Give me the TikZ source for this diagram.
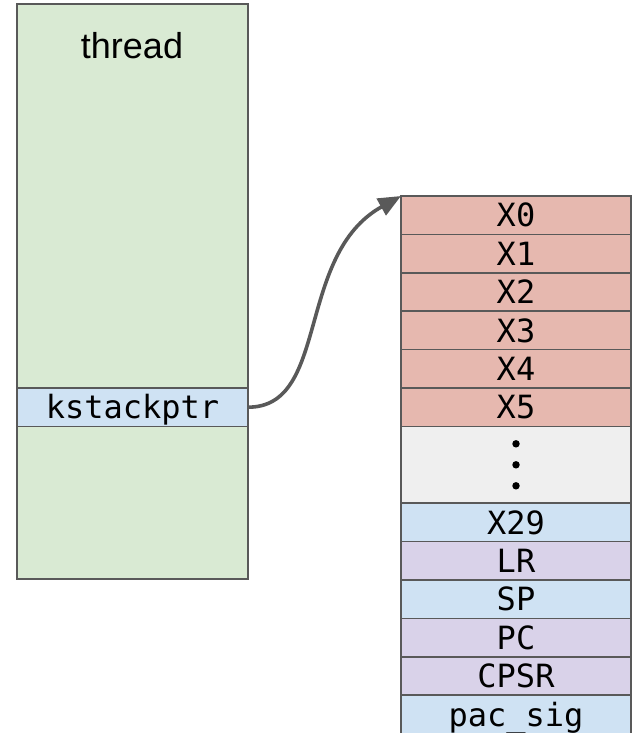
\documentclass[tikz,border=0pt]{standalone}
\usepackage{fontspec}
\setmainfont{Liberation Sans}
\newfontfamily\regmono{DejaVu Sans Mono}
\usetikzlibrary{arrows.meta}
\definecolor{strokegray}{HTML}{595959}
\definecolor{cgreen}{HTML}{D9EAD3}
\definecolor{cblue}{HTML}{CFE2F3}
\definecolor{cred}{HTML}{E6B8AF}
\definecolor{cgray}{HTML}{EFEFEF}
\definecolor{cpurple}{HTML}{D9D2E9}
\def\px{0.75pt}
\tikzset{
  box/.style={draw=strokegray, line width=1.1pt, inner sep=0pt, outer sep=0pt},
  regrow/.style={box, minimum width={230*\px}, minimum height={38.4*\px},
     font=\regmono\fontsize{24}{28}\selectfont, text height=17.4pt, text depth=0pt},
  ptrarrow/.style={draw=strokegray, line width=2.7pt, -{Triangle[length=17pt,width=14pt]}},
}
\begin{document}
\begin{tikzpicture}[x=0.75pt,y=-0.75pt]
\useasboundingbox (0,0) rectangle (632,733);
% thread box
\node[box, fill=cgreen, minimum width={231*\px}, minimum height={575*\px}] (thread) at (132.5,291.5) {};
\node[anchor=base, font=\fontsize{27}{32}\selectfont, inner sep=0pt] (threadlbl) at (132,58) {thread};
\node[regrow, minimum width={231*\px}, fill=cblue] (kstack) at (132.5,407.2) {kstackptr};
% register stack
\node[regrow, fill=cred] (x0) at (516,215.2) {X0};
\node[regrow, fill=cred] (x1) at (516,253.6) {X1};
\node[regrow, fill=cred] (x2) at (516,292.0) {X2};
\node[regrow, fill=cred] (x3) at (516,330.4) {X3};
\node[regrow, fill=cred] (x4) at (516,368.8) {X4};
\node[regrow, fill=cred] (x5) at (516,407.2) {X5};
\node[box, fill=cgray, minimum width={230*\px}, minimum height={76.8*\px}] (dots) at (516,464.8) {};
\fill ([yshift=15.75pt]dots.center) circle (2.8pt);
\fill (dots.center) circle (2.8pt);
\fill ([yshift=-15.75pt]dots.center) circle (2.8pt);
\node[regrow, fill=cblue] (x29) at (516,522.4) {X29};
\node[regrow, fill=cpurple] (lr) at (516,560.8) {LR};
\node[regrow, fill=cblue] (sp) at (516,599.2) {SP};
\node[regrow, fill=cpurple] (pc) at (516,637.6) {PC};
\node[regrow, fill=cpurple] (cpsr) at (516,676.0) {CPSR};
\node[regrow, fill=cblue] (pacsig) at (516,714.4) {pac\_sig};
% arrow
\draw[ptrarrow] (kstack.east) .. controls +(82,0) and +(-106,59) .. (x0.north west);
\end{tikzpicture}
\end{document}
